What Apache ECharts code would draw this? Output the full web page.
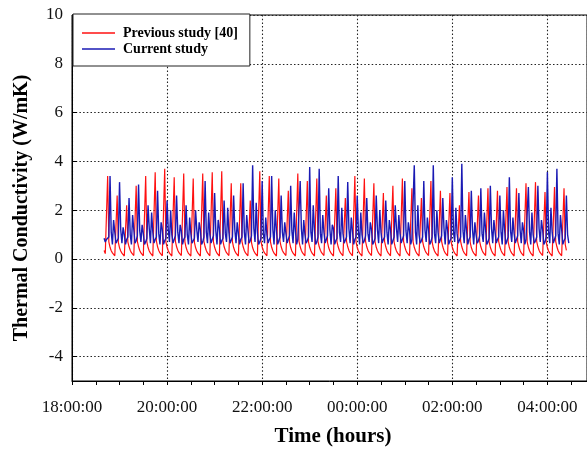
<!DOCTYPE html>
<html>
<head>
<meta charset="utf-8">
<script src="https://cdn.jsdelivr.net/npm/echarts@6/dist/echarts.min.js"></script>
<style>html,body{margin:0;padding:0;background:#fff}#c{width:587px;height:449px}</style>
</head>
<body>
<div id="c"></div>
<script>
// Time axis: hours after 18:00:00
const xLabelHours = [0, 2, 4, 6, 8, 10];
const xTickHours = [0,0.5,1,1.5,2,2.5,3,3.5,4,4.5,5,5.5,6,6.5,7,7.5,8,8.5,9,9.5,10,10.5];
const yTicks = [-4, -2, 0, 2, 4, 6, 8, 10];
const seriesNames = ['Previous study [40]', 'Current study'];
// samples start at 18:40:30 (0.675 h) and are 1.5 min (0.025 h) apart
const sampleStart = 0.675;
const sampleStep = 0.025;

const previousStudy = [
  0.35,0.22,0.15,
  3.4,0.7,0.48,0.34,0.25,0.18,0.13,0.1,
  2.6,0.68,0.46,0.33,0.24,0.17,0.12,0.09,
  2.2,0.7,0.5,0.36,0.26,0.19,0.14,0.11,
  3.0,0.72,0.5,0.35,0.25,0.18,0.13,0.1,
  3.4,0.7,0.47,0.33,0.24,0.17,0.12,0.08,
  3.55,0.74,0.5,0.35,0.25,0.18,0.13,0.1,
  3.7,0.7,0.48,0.34,0.24,0.17,0.12,0.09,
  3.35,0.72,0.5,0.36,0.26,0.19,0.14,0.11,
  3.5,0.7,0.47,0.33,0.23,0.16,0.12,0.09,
  3.3,0.68,0.46,0.33,0.24,0.17,0.12,0.1,
  3.5,0.72,0.5,0.35,0.25,0.18,0.13,0.1,
  3.55,0.7,0.48,0.34,0.24,0.17,0.12,0.08,
  3.6,0.74,0.5,0.36,0.26,0.19,0.14,0.11,
  3.1,0.7,0.47,0.33,0.24,0.17,0.12,0.09,
  3.1,0.72,0.5,0.35,0.25,0.18,0.13,0.1,
  2.4,0.68,0.46,0.33,0.24,0.17,0.12,0.09,
  3.6,0.72,0.49,0.35,0.25,0.18,0.13,0.1,
  3.4,0.7,0.48,0.34,0.24,0.17,0.12,0.08,
  3.3,0.72,0.5,0.35,0.26,0.19,0.14,0.11,
  2.8,0.7,0.47,0.33,0.24,0.17,0.12,0.09,
  3.5,0.72,0.5,0.35,0.25,0.18,0.13,0.1,
  3.2,0.7,0.48,0.34,0.24,0.17,0.12,0.09,
  3.3,0.72,0.5,0.36,0.26,0.19,0.14,0.1,
  2.6,0.68,0.46,0.33,0.24,0.17,0.12,0.09,
  2.9,0.7,0.49,0.35,0.25,0.18,0.13,0.1,
  2.5,0.72,0.5,0.35,0.25,0.18,0.13,0.1,
  3.4,0.7,0.47,0.33,0.24,0.17,0.12,0.08,
  3.3,0.72,0.5,0.36,0.26,0.19,0.14,0.11,
  3.1,0.7,0.48,0.34,0.24,0.17,0.12,0.09,
  2.7,0.72,0.5,0.35,0.25,0.18,0.13,0.1,
  3.0,0.7,0.47,0.33,0.24,0.17,0.12,0.09,
  3.3,0.72,0.5,0.35,0.25,0.18,0.13,0.1,
  2.9,0.7,0.48,0.34,0.24,0.17,0.12,0.08,
  2.5,0.72,0.5,0.36,0.26,0.19,0.14,0.11,
  3.2,0.7,0.47,0.33,0.24,0.17,0.12,0.09,
  2.8,0.72,0.5,0.35,0.25,0.18,0.13,0.1,
  2.7,0.7,0.48,0.34,0.24,0.17,0.12,0.09,
  2.2,0.72,0.5,0.35,0.25,0.18,0.13,0.1,
  2.75,0.7,0.47,0.33,0.24,0.17,0.12,0.08,
  2.6,0.72,0.5,0.36,0.26,0.19,0.14,0.11,
  2.9,0.7,0.48,0.34,0.24,0.17,0.12,0.09,
  2.8,0.72,0.5,0.35,0.25,0.18,0.13,0.1,
  2.95,0.7,0.47,0.33,0.24,0.17,0.12,0.09,
  2.9,0.72,0.5,0.35,0.25,0.18,0.13,0.1,
  3.1,0.7,0.48,0.34,0.24,0.17,0.12,0.08,
  3.15,0.72,0.5,0.36,0.26,0.19,0.14,0.11,
  2.75,0.7,0.47,0.33,0.24,0.17,0.12,0.09,
  2.95,0.72,0.5,0.35,0.25,0.18,0.13,0.1,
  2.9,0.6,0.35
];

const currentStudy = [
  0.85,0.7,0.8,
  0.75,0.9,3.4,1.1,0.6,1.6,1.1,0.65,
  0.7,0.85,3.15,1.2,0.65,1.3,1.0,0.6,
  0.8,0.9,2.5,1.0,0.6,1.8,1.2,0.65,
  0.75,0.95,3.05,1.15,0.7,1.4,1.05,0.6,
  0.7,0.85,2.2,1.25,0.65,1.9,1.1,0.65,
  0.8,0.9,2.8,1.05,0.6,1.5,1.2,0.6,
  0.75,0.85,2.4,1.2,0.7,2.0,1.0,0.65,
  0.7,0.95,2.6,1.1,0.65,1.4,1.15,0.6,
  0.8,0.9,2.2,1.0,0.6,1.7,1.05,0.65,
  0.75,0.85,2.0,1.2,0.7,1.5,1.2,0.6,
  0.7,0.9,3.2,1.1,0.65,1.9,1.0,0.65,
  0.8,0.95,2.7,1.15,0.6,1.6,1.25,0.6,
  0.75,0.85,2.4,1.05,0.7,2.1,1.1,0.65,
  0.7,0.9,2.6,1.2,0.65,1.5,1.05,0.6,
  0.8,0.9,3.1,1.1,0.6,1.8,1.2,0.65,
  0.75,0.95,3.84,1.25,0.7,2.3,1.1,0.6,
  0.7,0.85,3.2,1.05,0.65,1.7,1.0,0.65,
  0.8,0.9,3.4,1.2,0.6,2.0,1.2,0.6,
  0.75,0.9,2.6,1.1,0.7,1.5,1.05,0.65,
  0.7,0.95,3.0,1.15,0.65,1.9,1.15,0.6,
  0.8,0.85,3.2,1.25,0.6,1.6,1.0,0.65,
  0.75,0.9,3.77,1.1,0.7,2.2,1.2,0.6,
  0.7,0.9,3.7,1.05,0.65,1.8,1.1,0.65,
  0.8,0.95,2.9,1.2,0.6,1.4,1.25,0.6,
  0.75,0.85,3.4,1.1,0.7,2.1,1.05,0.65,
  0.7,0.9,3.15,1.25,0.65,1.7,1.15,0.6,
  0.8,0.9,2.6,1.1,0.6,1.9,1.0,0.65,
  0.75,0.95,2.5,1.05,0.7,1.5,1.2,0.6,
  0.7,0.85,2.6,1.2,0.65,2.0,1.1,0.65,
  0.8,0.9,2.4,1.1,0.6,1.6,1.2,0.6,
  0.75,0.9,2.2,1.25,0.7,1.8,1.05,0.65,
  0.7,0.95,3.2,1.15,0.65,1.5,1.15,0.6,
  0.8,0.85,3.84,1.1,0.6,2.2,1.0,0.65,
  0.75,0.9,3.2,1.2,0.7,1.7,1.2,0.6,
  0.7,0.9,3.84,1.05,0.65,2.0,1.1,0.65,
  0.8,0.95,2.5,1.25,0.6,1.6,1.2,0.6,
  0.75,0.85,3.35,1.1,0.7,2.1,1.05,0.65,
  0.7,0.9,3.9,1.15,0.65,1.8,1.15,0.6,
  0.8,0.9,2.8,1.2,0.6,1.5,1.0,0.65,
  0.75,0.95,2.9,1.05,0.7,1.9,1.2,0.6,
  0.7,0.85,3.0,1.25,0.65,1.6,1.1,0.65,
  0.8,0.9,2.6,1.1,0.6,2.0,1.2,0.6,
  0.75,0.9,3.35,1.15,0.7,1.7,1.05,0.65,
  0.7,0.95,2.7,1.2,0.65,1.5,1.15,0.6,
  0.8,0.85,2.95,1.1,0.6,1.9,1.0,0.65,
  0.75,0.9,3.0,1.25,0.7,1.6,1.2,0.6,
  0.7,0.9,3.56,1.1,0.65,2.1,1.1,0.65,
  0.8,0.95,3.7,1.05,0.6,1.8,1.2,0.6,
  0.75,0.85,2.6,1.0,0.65
];

function pairs(vals) {
  return vals.map((v, i) => [sampleStart + i * sampleStep, v]);
}
function hourLabel(h) {
  const hh = (18 + Math.round(h)) % 24;
  return (hh < 10 ? '0' : '') + hh + ':00:00';
}

const serif = '"Liberation Serif", "Times New Roman", serif';
const gridLine = { show: true, lineStyle: { color: '#222', width: 1.1, type: [1.5, 2.2] } };

const chart = echarts.init(document.getElementById('c'), null, { renderer: 'canvas' });
chart.setOption({
  animation: false,
  backgroundColor: '#fff',
  grid: { left: 72, top: 15, right: -1, bottom: 68, show: true, borderColor: '#000', borderWidth: 1, backgroundColor: 'transparent' },
  legend: {
    data: seriesNames,
    orient: 'vertical',
    left: 73, top: 14,
    padding: [11, 12, 9, 9],
    itemGap: 0,
    itemWidth: 33, itemHeight: 1.5,
    icon: 'rect',
    backgroundColor: '#fff',
    borderColor: '#222', borderWidth: 1,
    textStyle: { fontFamily: serif, fontWeight: 'bold', fontSize: 14, color: '#000', lineHeight: 16, padding: [0, 0, 0, 3] }
  },
  xAxis: [
    {
      type: 'value', min: 0, max: 10.8333, position: 'bottom',
      axisLine: { show: true, onZero: false, lineStyle: { color: '#000', width: 1 } },
      axisTick: { show: true, inside: false, length: 4, customValues: xTickHours, lineStyle: { color: '#000' } },
      axisLabel: { customValues: xLabelHours, formatter: hourLabel, margin: 18, fontFamily: serif, fontSize: 17, color: '#111' },
      splitLine: { show: false }
    },
    {
      type: 'value', min: 0, max: 10.8333, interval: 2, position: 'top',
      axisLine: { show: false },
      axisTick: { show: true, inside: false, length: 3, lineStyle: { color: '#000' } },
      axisLabel: { show: false },
      splitLine: gridLine
    }
  ],
  yAxis: {
    type: 'value', min: -5, max: 10,
    axisLine: { show: true, onZero: false, lineStyle: { color: '#000', width: 1 } },
    axisTick: { show: true, inside: true, length: 5, customValues: yTicks, lineStyle: { color: '#000' } },
    axisLabel: { customValues: yTicks, margin: 9, fontFamily: serif, fontSize: 17, color: '#111' },
    splitLine: gridLine
  },
  graphic: [
    { type: 'text', x: 22, y: 208, rotation: Math.PI / 2,
      style: { text: 'Thermal Conductivity (W/mK)', font: 'bold 20px ' + serif, fill: '#000', align: 'center', verticalAlign: 'middle' } },
    { type: 'text', x: 333, y: 437,
      style: { text: 'Time (hours)', font: 'bold 21px ' + serif, fill: '#000', align: 'center', verticalAlign: 'middle' } }
  ],
  series: [
    { name: seriesNames[0], type: 'line', xAxisIndex: 0, data: pairs(previousStudy), showSymbol: false, symbol: 'none',
      lineStyle: { color: '#ff1010', width: 1.2 }, itemStyle: { color: '#ff1010' }, z: 2 },
    { name: seriesNames[1], type: 'line', xAxisIndex: 0, data: pairs(currentStudy), showSymbol: false, symbol: 'none',
      lineStyle: { color: '#1a1ab4', width: 1.4 }, itemStyle: { color: '#1a1ab4' }, z: 3 }
  ]
});
</script>
</body>
</html>
